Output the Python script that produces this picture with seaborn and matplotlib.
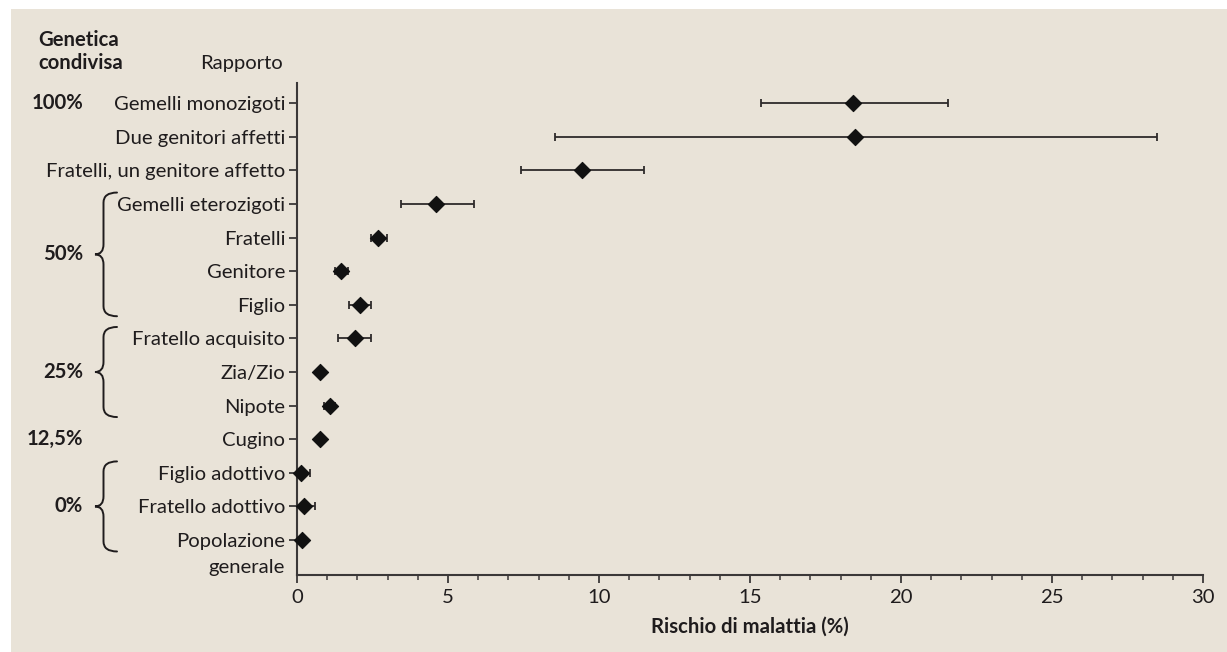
import matplotlib
matplotlib.use("Agg")
import matplotlib.pyplot as plt
import matplotlib.transforms as mtransforms
from matplotlib.path import Path
from matplotlib.patches import PathPatch, Rectangle
from matplotlib.ticker import MultipleLocator
import numpy as np
import pandas as pd
import seaborn as sns

# ---------------- data ----------------
relations = ["Gemelli monozigoti", "Due genitori affetti", "Fratelli, un genitore affetto",
             "Gemelli eterozigoti", "Fratelli", "Genitore", "Figlio",
             "Fratello acquisito", "Zia/Zio", "Nipote", "Cugino",
             "Figlio adottivo", "Fratello adottivo", "Popolazione\ngenerale"]
risk = [18.41, 18.48, 9.45, 4.61, 2.69, 1.46, 2.09, 1.91, 0.77, 1.09, 0.76, 0.12, 0.24, 0.18]
risk_low = [15.38, 8.55, 7.42, 3.43, 2.45, 1.25, 1.72, 1.36, 0.77, 0.88, 0.76, 0.00, 0.00, 0.18]
risk_high = [21.55, 28.48, 11.49, 5.85, 2.97, 1.68, 2.45, 2.44, 0.77, 1.26, 0.76, 0.44, 0.60, 0.18]
shared_labels = ["100%", "50%", "25%", "12,5%", "0%"]
shared_rows = [[0], [3, 4, 5, 6], [7, 8, 9], [10], [11, 12, 13]]
x_ticks = [0, 5, 10, 15, 20, 25, 30]

# ---------------- style ----------------
sns.set_theme(style="white")
FONT = ["Lato", "DejaVu Sans"]
plt.rcParams["font.family"] = FONT
TXT = "#1f1c1d"
AX = "#3b3838"
BG = "#e9e3d8"
FS = 14.6

df = pd.DataFrame({"relazione": relations, "rischio": risk,
                   "low": risk_low, "high": risk_high})
df["pos"] = np.arange(len(df))

W, H = 1227, 652
fig = plt.figure(figsize=(W / 100, H / 100), dpi=100, facecolor="white")
fig.patches.append(Rectangle((11 / W, 0), 1 - 11 / W, 1 - 9 / H,
                             transform=fig.transFigure, facecolor=BG,
                             edgecolor="none", zorder=-10))
L, R, B, T = 297 / W, 1203 / W, 1 - 575 / H, 1 - 83 / H
ax = fig.add_axes([L, B, R - L, T - B])
ax.patch.set_alpha(0)

# error bars
eb = df[df["high"] > df["low"]]
ax.errorbar(eb["rischio"], eb["pos"],
            xerr=[eb["rischio"] - eb["low"], eb["high"] - eb["rischio"]],
            fmt="none", ecolor="#2e2b2b", elinewidth=1.3, capsize=3.2,
            capthick=1.3, zorder=2, clip_on=False)

# diamonds
sns.scatterplot(data=df, x="rischio", y="pos", marker="D", s=68,
                color="#111111", edgecolor="#111111", linewidth=0.8,
                ax=ax, zorder=3, clip_on=False, legend=False)

ax.set_xlim(0, 30)
ax.set_ylim(len(df) - 1 + 1.04, -0.6)
ax.set_xticks(x_ticks)
ax.set_xticklabels([str(v) for v in x_ticks])
ax.xaxis.set_minor_locator(MultipleLocator(1))
ax.set_yticks(df["pos"])
ax.set_yticklabels(df["relazione"])

for side in ["top", "right"]:
    ax.spines[side].set_visible(False)
for side in ["left", "bottom"]:
    ax.spines[side].set_color(AX)
    ax.spines[side].set_linewidth(1.5)

ax.tick_params(axis="y", which="major", direction="out", length=5.5, width=1.3,
               color=AX, pad=3, labelsize=FS, labelcolor=TXT, left=True)
ax.tick_params(axis="x", which="major", direction="out", length=6, width=1.3,
               color=AX, pad=4, labelsize=FS, labelcolor=TXT, bottom=True)
ax.tick_params(axis="x", which="minor", direction="out", length=3.8, width=1.1,
               color=AX, bottom=True)

ax.set_xlabel("Rischio di malattia (%)", fontsize=FS, fontweight="bold",
              color=TXT, labelpad=8)
ax.set_ylabel("")

# multi-line last label: align first line with its tick
lab = ax.get_yticklabels()[-1]
lab.set_verticalalignment("top")
lab.set_linespacing(1.65)
lab.set_transform(lab.get_transform() +
                  mtransforms.ScaledTranslation(0, 5.2 / 72, fig.dpi_scale_trans))

# header texts
fig.text(38 / W, 1 - 40 / H, "Genetica", fontsize=FS, fontweight="bold",
         color=TXT, ha="left", va="center")
fig.text(38 / W, 1 - 63 / H, "condivisa", fontsize=FS, fontweight="bold",
         color=TXT, ha="left", va="center")
fig.text(283 / W, 1 - 63 / H, "Rapporto", fontsize=FS, color=TXT,
         ha="right", va="center")

# shared-genetics labels and braces
blend = mtransforms.blended_transform_factory(fig.transFigure, ax.transData)
x_lab = 83 / W
x_tip, x_sp, x_end = 95 / W, 103.5 / W, 117 / W
for label, rows in zip(shared_labels, shared_rows):
    ym = (rows[0] + rows[-1]) / 2
    fig.text(x_lab, ym, label, transform=blend, fontsize=FS, fontweight="bold",
             color=TXT, ha="right", va="center")
    if len(rows) > 1:
        y0, y1 = rows[0] - 0.34, rows[-1] + 0.34
        r = 0.3
        verts = [(x_end, y0), (x_sp, y0), (x_sp, y0 + r),
                 (x_sp, ym - r),
                 (x_sp, ym), (x_tip, ym),
                 (x_sp, ym), (x_sp, ym + r),
                 (x_sp, y1 - r),
                 (x_sp, y1), (x_end, y1)]
        codes = [Path.MOVETO, Path.CURVE3, Path.CURVE3,
                 Path.LINETO,
                 Path.CURVE3, Path.CURVE3,
                 Path.CURVE3, Path.CURVE3,
                 Path.LINETO,
                 Path.CURVE3, Path.CURVE3]
        fig.patches.append(PathPatch(Path(verts, codes), transform=blend,
                                     facecolor="none", edgecolor=TXT,
                                     linewidth=1.4, capstyle="round"))

fig.savefig("out.png", dpi=100, facecolor="white")
